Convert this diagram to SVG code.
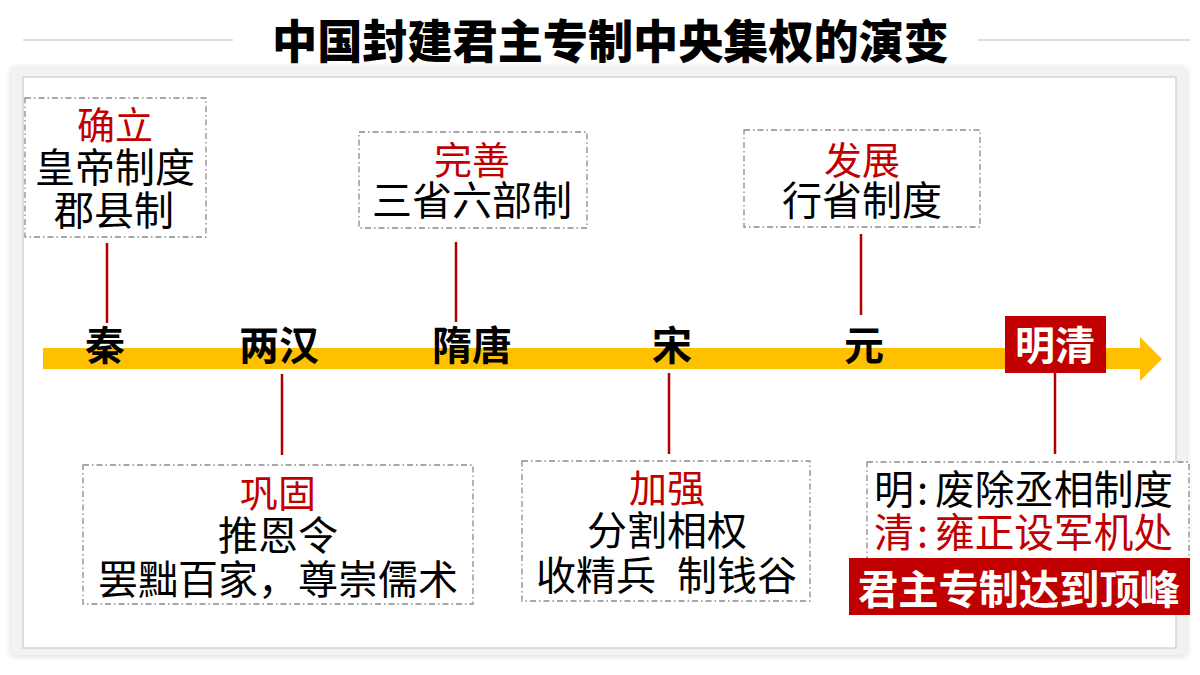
<svg xmlns="http://www.w3.org/2000/svg" width="1200" height="675" viewBox="0 0 1200 675">
  <defs>
    <style>
      .cjk { font-family: "Noto Sans CJK SC", "Noto Sans", sans-serif; }
      .title { font-size: 46px; font-weight: 900; fill: #000; }
      .era { font-size: 40px; font-weight: 700; fill: #000; text-anchor: middle; }
      .head { font-size: 38px; fill: #C00000; text-anchor: middle; }
      .body { font-size: 40px; fill: #000; text-anchor: middle; }
      .box { fill: #fff; stroke: #8a8a8a; stroke-width: 1.3; stroke-dasharray: 6 3 1.5 3; }
      .conn { stroke: #B00000; stroke-width: 2.5; fill: none; }
      .rule { stroke: #bfbfbf; stroke-width: 1.2; }
    </style>
    <filter id="sh" x="-5%" y="-5%" width="110%" height="110%">
      <feGaussianBlur stdDeviation="3"/>
    </filter>
  </defs>

  <rect width="1200" height="675" fill="#fff"/>

  <!-- title -->
  <g id="title">
    <line class="rule" x1="23" y1="40" x2="233" y2="40"/>
    <line class="rule" x1="978" y1="40" x2="1190" y2="40"/>
    <text class="cjk title" x="272" y="58" textLength="677" lengthAdjust="spacingAndGlyphs">中国封建君主专制中央集权的演变</text>
  </g>

  <!-- frame -->
  <g id="frame">
    <rect x="11" y="68" width="1176" height="588" fill="#d9d9d9" filter="url(#sh)"/>
    <rect x="11" y="67" width="1176" height="588" fill="#f2f2f2"/>
    <rect x="23" y="77" width="1153" height="571" fill="#fff" stroke="#d6d6d6" stroke-width="1.5"/>
  </g>

  <!-- timeline -->
  <g id="timeline">
    <rect x="43" y="348" width="1098" height="21" fill="#FFC000"/>
    <polygon points="1140,337 1162,359 1140,381" fill="#FFC000"/>
  </g>

  <!-- connectors -->
  <g id="connectors">
    <line class="conn" x1="107" y1="243" x2="107" y2="323"/>
    <line class="conn" x1="456" y1="242" x2="456" y2="322"/>
    <line class="conn" x1="861" y1="234" x2="861" y2="315"/>
    <line class="conn" x1="282" y1="374" x2="282" y2="455"/>
    <line class="conn" x1="669" y1="373" x2="669" y2="454"/>
    <line class="conn" x1="1055" y1="373" x2="1055" y2="454"/>
  </g>

  <!-- era labels -->
  <g id="era-qin"><text class="cjk era" x="105" y="360">秦</text></g>
  <g id="era-han"><text class="cjk era" x="279" y="360">两汉</text></g>
  <g id="era-suitang"><text class="cjk era" x="472" y="360">隋唐</text></g>
  <g id="era-song"><text class="cjk era" x="672" y="360">宋</text></g>
  <g id="era-yuan"><text class="cjk era" x="864" y="360">元</text></g>
  <g id="era-mingqing">
    <rect x="1005" y="316" width="101" height="57" fill="#C00000"/>
    <text class="cjk era" x="1055" y="360" style="fill:#fff">明清</text>
  </g>

  <!-- top boxes -->
  <g id="box-qin">
    <rect class="box" x="25" y="98" width="181" height="139"/>
    <text class="cjk head" x="115" y="139">确立</text>
    <text class="cjk body" x="115" y="182">皇帝制度</text>
    <text class="cjk body" x="114" y="225">郡县制</text>
  </g>
  <g id="box-suitang">
    <rect class="box" x="359" y="132" width="228" height="96"/>
    <text class="cjk head" x="472" y="174">完善</text>
    <text class="cjk body" x="472" y="215">三省六部制</text>
  </g>
  <g id="box-yuan">
    <rect class="box" x="744" y="130" width="236" height="97"/>
    <text class="cjk head" x="862" y="174">发展</text>
    <text class="cjk body" x="862" y="215">行省制度</text>
  </g>

  <!-- bottom boxes -->
  <g id="box-han">
    <rect class="box" x="83" y="465" width="390" height="139"/>
    <text class="cjk head" x="278" y="507">巩固</text>
    <text class="cjk body" x="278" y="550">推恩令</text>
    <text class="cjk body" x="278" y="594">罢黜百家，尊崇儒术</text>
  </g>
  <g id="box-song">
    <rect class="box" x="522" y="461" width="288" height="140"/>
    <text class="cjk head" x="667" y="502">加强</text>
    <text class="cjk body" x="667" y="545">分割相权</text>
    <text class="cjk" font-size="40" fill="#000" y="590"><tspan x="536">收精兵</tspan><tspan x="677">制钱谷</tspan></text>
  </g>
  <g id="box-mingqing">
    <rect class="box" x="867" y="462" width="322" height="106"/>
    <text class="cjk" font-size="40" fill="#000" y="504"><tspan x="874">明</tspan><tspan x="917">:</tspan><tspan x="935" textLength="238" lengthAdjust="spacingAndGlyphs">废除丞相制度</tspan></text>
    <text class="cjk" font-size="40" fill="#C00000" y="547"><tspan x="874">清</tspan><tspan x="917">:</tspan><tspan x="935" textLength="238" lengthAdjust="spacingAndGlyphs">雍正设军机处</tspan></text>
    <rect x="849" y="558" width="341" height="57" fill="#C00000"/>
    <text class="cjk" font-size="40" font-weight="700" fill="#fff" x="1019" y="604" text-anchor="middle" textLength="322" lengthAdjust="spacingAndGlyphs">君主专制达到顶峰</text>
  </g>
</svg>
